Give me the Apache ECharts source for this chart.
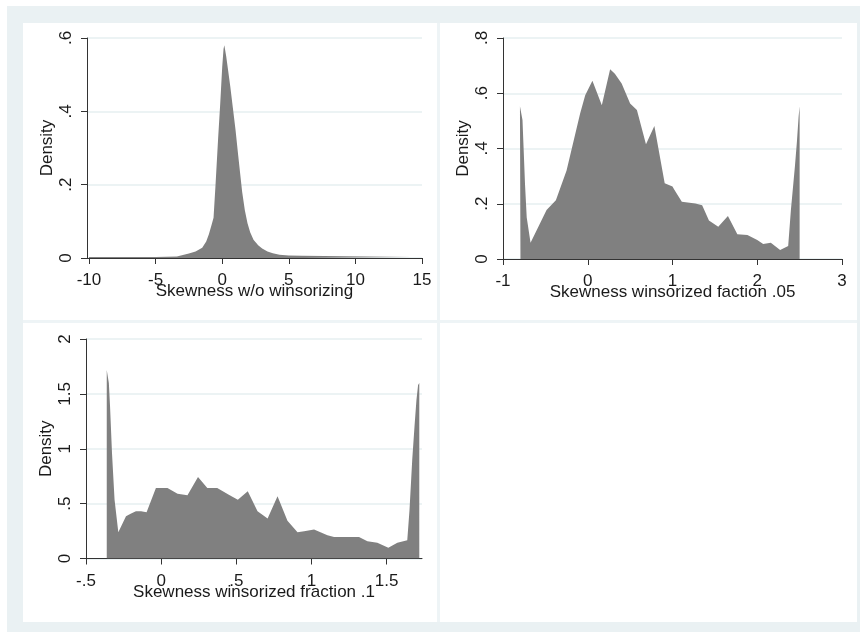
<!DOCTYPE html>
<html>
<head>
<meta charset="utf-8">
<script src="https://cdn.jsdelivr.net/npm/echarts@6/dist/echarts.min.js"></script>
<style>
  html, body { margin: 0; padding: 0; background: #fff; }
  #main { width: 860px; height: 632px; }
</style>
</head>
<body>
<div id="main"></div>
<script>
// skewness w/o winsorizing
var rawX = [-10, -5, -3.4, -3.3, -2.5, -2.0, -1.5, -1.2, -1.0, -0.8, -0.65, -0.5, -0.3, -0.15, 0.0, 0.1, 0.16, 0.3, 0.45, 0.6, 0.8, 1.0, 1.2, 1.35, 1.5, 1.7, 1.9, 2.1, 2.35, 2.7, 3.0, 3.4, 3.8, 4.3, 5.0, 6.0, 6.1, 14.2];
var rawDensity = [0.003, 0.003, 0.004, 0.008, 0.012, 0.018, 0.028, 0.045, 0.065, 0.09, 0.11, 0.2, 0.33, 0.42, 0.52, 0.57, 0.58, 0.55, 0.51, 0.47, 0.41, 0.35, 0.28, 0.23, 0.18, 0.13, 0.095, 0.07, 0.05, 0.035, 0.026, 0.018, 0.013, 0.009, 0.007, 0.006, 0.003, 0.003];

// winsorized .05
var w05X = [-0.8, -0.794, -0.77, -0.74, -0.72, -0.675, -0.486, -0.376, -0.25, -0.09, -0.03, 0.055, 0.166, 0.264, 0.32, 0.40, 0.50, 0.58, 0.687, 0.786, 0.908, 1.0, 1.02, 1.11, 1.27, 1.35, 1.43, 1.54, 1.654, 1.765, 1.884, 2.0, 2.07, 2.16, 2.27, 2.365, 2.397, 2.444, 2.468, 2.488, 2.5];
var w05Density = [0.553, 0.553, 0.503, 0.27, 0.15, 0.059, 0.177, 0.213, 0.32, 0.527, 0.593, 0.645, 0.557, 0.687, 0.671, 0.635, 0.563, 0.539, 0.415, 0.481, 0.274, 0.262, 0.252, 0.207, 0.201, 0.195, 0.139, 0.117, 0.156, 0.09, 0.087, 0.069, 0.054, 0.059, 0.033, 0.047, 0.177, 0.334, 0.424, 0.515, 0.553];

// winsorized .1
var w10X = [-0.362, -0.348, -0.34, -0.327, -0.31, -0.285, -0.234, -0.2, -0.168, -0.134, -0.097, -0.035, 0.042, 0.109, 0.175, 0.245, 0.307, 0.373, 0.45, 0.51, 0.576, 0.641, 0.708, 0.774, 0.84, 0.907, 0.951, 1.017, 1.106, 1.15, 1.316, 1.372, 1.438, 1.511, 1.571, 1.637, 1.652, 1.67, 1.685, 1.698, 1.709, 1.717];
var w10Density = [1.718, 1.6, 1.385, 0.96, 0.536, 0.24, 0.385, 0.409, 0.43, 0.43, 0.421, 0.642, 0.642, 0.591, 0.576, 0.742, 0.642, 0.642, 0.58, 0.536, 0.612, 0.43, 0.364, 0.567, 0.345, 0.24, 0.248, 0.264, 0.212, 0.197, 0.197, 0.158, 0.143, 0.097, 0.143, 0.167, 0.445, 0.9, 1.2, 1.445, 1.58, 1.6];

// tick labels
var rawXTicks = [-10, -5, 0, 5, 10, 15];
var w05XTicks = [-1, 0, 1, 2, 3];
var w10XTicks = [-0.5, 0, 0.5, 1, 1.5];

var titles = ['Skewness w/o winsorizing', 'Skewness winsorized faction .05', 'Skewness winsorized fraction .1'];

var font = "'Liberation Sans', Arial, sans-serif";
var txt = '#1a1a1a';

function fmt(v) {
    // stata style: .5 instead of 0.5
    return String(v).replace('0.', '.');
}

function pairs(xs, ys) {
    return xs.map(function (x, i) { return [x, ys[i]]; });
}

function xAxisOf(i, min, max, ticks, name) {
    return {
        gridIndex: i, type: 'value', min: min, max: max,
        name: name, nameLocation: 'middle', nameGap: 25, nameMoveOverlap: false,
        nameTextStyle: { fontFamily: font, fontSize: 17, color: txt },
        axisLine: { onZero: false, lineStyle: { color: '#333', width: 1 } },
        axisTick: { length: 6, customValues: ticks, lineStyle: { color: '#333' } },
        axisLabel: { customValues: ticks, margin: 14, fontFamily: font, fontSize: 17, color: txt, formatter: fmt },
        splitLine: { show: false }
    };
}

function yAxisOf(i, max, interval) {
    return {
        gridIndex: i, type: 'value', min: 0, max: max, interval: interval,
        name: 'Density', nameLocation: 'middle', nameGap: 31, nameMoveOverlap: false,
        nameTextStyle: { fontFamily: font, fontSize: 17, color: txt },
        axisLine: { show: true, onZero: false, lineStyle: { color: '#333', width: 1 } },
        axisTick: { show: true, length: 6, lineStyle: { color: '#333' } },
        axisLabel: { rotate: 90, margin: 12, fontFamily: font, fontSize: 17, color: txt, formatter: fmt },
        splitLine: { show: true, lineStyle: { color: '#e6eff1', width: 1.5 } }
    };
}

function areaSeries(i, data) {
    return {
        type: 'line', xAxisIndex: i, yAxisIndex: i,
        data: data, showSymbol: false, symbol: 'none',
        lineStyle: { width: 0 },
        areaStyle: { color: '#808080', opacity: 1 },
        silent: true, animation: false
    };
}

var myChart = echarts.init(document.getElementById('main'), null, { renderer: 'canvas' });
myChart.setOption({
    animation: false,
    backgroundColor: '#fff',
    graphic: [
        { type: 'rect', z: -10, shape: { x: 7, y: 6, width: 853, height: 626 }, style: { fill: '#eaf1f3' } },
        { type: 'rect', z: -9, shape: { x: 23, y: 23, width: 834, height: 599 }, style: { fill: '#fff' } },
        { type: 'rect', z: -8, shape: { x: 437, y: 23, width: 3, height: 599 }, style: { fill: '#eef4f6' } },
        { type: 'rect', z: -8, shape: { x: 23, y: 320, width: 834, height: 3 }, style: { fill: '#eef4f6' } }
    ],
    grid: [
        { left: 87, top: 38, width: 335, height: 220 },
        { left: 503, top: 38, width: 339, height: 221 },
        { left: 86, top: 339, width: 336, height: 219.5 }
    ],
    xAxis: [
        xAxisOf(0, -10.15, 15, rawXTicks, titles[0]),
        xAxisOf(1, -1, 3, w05XTicks, titles[1]),
        xAxisOf(2, -0.5, 1.735, w10XTicks, titles[2])
    ],
    yAxis: [
        yAxisOf(0, 0.6, 0.2),
        yAxisOf(1, 0.8, 0.2),
        yAxisOf(2, 2, 0.5)
    ],
    series: [
        areaSeries(0, pairs(rawX, rawDensity)),
        areaSeries(1, pairs(w05X, w05Density)),
        areaSeries(2, pairs(w10X, w10Density))
    ]
});
</script>
</body>
</html>
